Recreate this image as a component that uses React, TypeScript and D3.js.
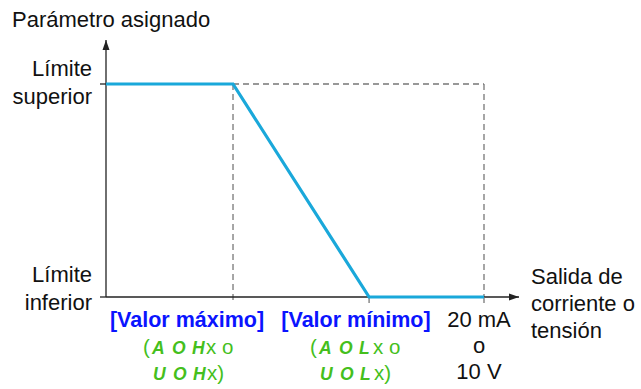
import * as d3 from "d3";

// output signal (% of range) vs assigned parameter (% of range)
const outputPct = [0, 33.6, 69.6, 100];
const paramPct = [100, 100, 0, 0];
const tickPct = [33.6, 69.6, 100];

const yLabelsTop = ["Límite", "superior"];
const yLabelsBottom = ["Límite", "inferior"];
const xTitle = ["Salida de", "corriente o", "tensión"];
const fullScale = ["20 mA", "o", "10 V"];
const paramCodes = [
  { head: ["A", "O", "H"], alt: ["U", "O", "H"] },
  { head: ["A", "O", "L"], alt: ["U", "O", "L"] },
];
const blueLabels = ["[Valor máximo]", "[Valor mínimo]"];

const FONT = "Liberation Sans, Arial, sans-serif";
const BLUE = "#0a14ff";
const GREEN = "#45bf1d";
const LINE = "#1aa8da";

const Seg = ({ x, y, letters, tail }: { x: number; y: number; letters: string[]; tail: string }) => (
  <g fontFamily={FONT} fill={GREEN}>
    {letters.map((l, i) => (
      <text key={i} x={x + i * 20} y={y} fontStyle="italic" fontWeight="bold" fontSize={17.5}>
        {l}
      </text>
    ))}
    <text x={x + 54} y={y} fontSize={20.5}>{tail}</text>
  </g>
);

export default function App() {
  const width = 641;
  const height = 389;
  const x = d3.scaleLinear().domain([0, 100]).range([106, 484]);
  const y = d3.scaleLinear().domain([0, 100]).range([297, 84]);

  const pts = outputPct.map((v, i) => [x(v), y(paramPct[i])] as [number, number]);
  const line = d3.line()(pts) ?? "";

  const x0 = x(0);
  const yTop = y(100);
  const yBot = y(0);
  const labelCx = [187, 356];
  const groupX = [143, 310];

  return (
    <svg width={width} height={height} style={{ position: "absolute", left: 0, top: 0, background: "#fff" }}>
      <defs>
        <marker id="arr" viewBox="0 0 10 10" refX="10" refY="5" markerWidth="10" markerHeight="10" markerUnits="userSpaceOnUse" orient="auto">
          <path d="M0,1.5 L10,5 L0,8.5 Z" fill="#222" />
        </marker>
      </defs>

      {/* dashed guides */}
      <g stroke="#777" strokeWidth={1.3} strokeDasharray="6,4" fill="none">
        <line x1={x(tickPct[0])} y1={yTop} x2={x(tickPct[2])} y2={yTop} />
        <line x1={x(tickPct[0])} y1={yTop} x2={x(tickPct[0])} y2={yBot + 6} />
        <line x1={x(tickPct[2])} y1={yTop} x2={x(tickPct[2])} y2={yBot} />
      </g>

      {/* axes */}
      <g stroke="#222" strokeWidth={1.3}>
        <line x1={x0} y1={yBot} x2={x0} y2={40} markerEnd="url(#arr)" />
        <line x1={x0} y1={yBot} x2={519} y2={yBot} markerEnd="url(#arr)" />
        <line x1={x0 - 6} y1={yTop} x2={x0} y2={yTop} />
        <line x1={x0 - 6} y1={yBot} x2={x0} y2={yBot} />
      </g>
      <g stroke="#777" strokeWidth={1.3}>
        {tickPct.slice(1).map((t) => (
          <line key={t} x1={x(t)} y1={yBot} x2={x(t)} y2={yBot + 6} />
        ))}
      </g>

      <path d={line} fill="none" stroke={LINE} strokeWidth={3.2} strokeLinejoin="miter" />

      <g fontFamily={FONT} fontSize={22} fill="#111">
        <text x={12} y={27}>Parámetro asignado</text>
        {yLabelsTop.map((s, i) => (
          <text key={"t" + i} x={92} y={yTop - 8 + i * 28} textAnchor="end">{s}</text>
        ))}
        {yLabelsBottom.map((s, i) => (
          <text key={"b" + i} x={92} y={yBot - 15 + i * 28} textAnchor="end">{s}</text>
        ))}
        {xTitle.map((s, i) => (
          <text key={"x" + i} x={531} y={284 + i * 27}>{s}</text>
        ))}
        {fullScale.map((s, i) => (
          <text key={"f" + i} x={479} y={327 + i * 26} textAnchor="middle">{s}</text>
        ))}
      </g>

      <g fontFamily={FONT} fontSize={21.5} fontWeight="bold" fill={BLUE}>
        {blueLabels.map((s, i) => (
          <text key={s} x={labelCx[i]} y={327} textAnchor="middle">{s}</text>
        ))}
      </g>

      {paramCodes.map((c, i) => (
        <g key={i}>
          <text x={groupX[i]} y={354} fontFamily={FONT} fontSize={20.5} fill={GREEN}>(</text>
          <Seg x={groupX[i] + 9} y={354} letters={c.head} tail="x o" />
          <Seg x={groupX[i] + 10} y={380} letters={c.alt} tail="x)" />
        </g>
      ))}
    </svg>
  );
}
